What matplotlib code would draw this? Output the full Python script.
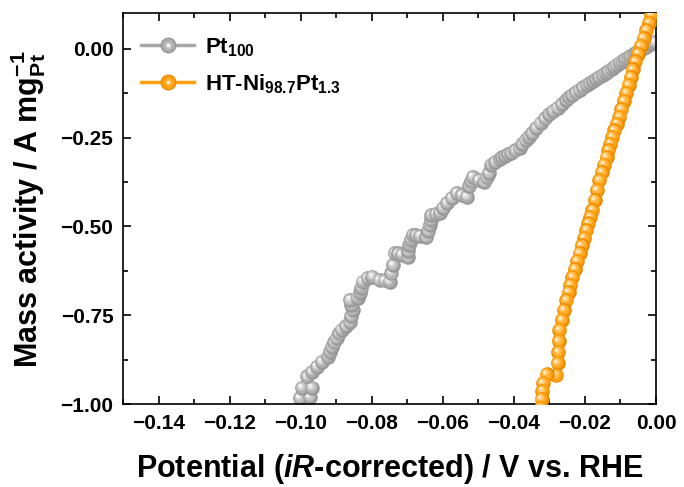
import matplotlib
matplotlib.use('Agg')
import matplotlib.pyplot as plt
from matplotlib.lines import Line2D
from matplotlib.legend_handler import HandlerTuple
from matplotlib.ticker import MultipleLocator
from matplotlib.transforms import offset_copy

plt.rcParams['font.family'] = ['Liberation Sans', 'DejaVu Sans']
plt.rcParams['font.weight'] = 'bold'
plt.rcParams['mathtext.fontset'] = 'custom'
plt.rcParams['mathtext.rm'] = 'Liberation Sans:bold'
plt.rcParams['mathtext.bf'] = 'Liberation Sans:bold'
plt.rcParams['mathtext.it'] = 'Liberation Sans:italic:bold'

# Pt100 (gray)
pt_x = [-0.1003, -0.0975, -0.0997, -0.0969, -0.0983, -0.0969, -0.0955, -0.0941,
        -0.0924, -0.0918, -0.0913, -0.0906, -0.0899, -0.0892, -0.0885, -0.0873,
        -0.0862, -0.0858, -0.0854, -0.0858, -0.0862, -0.0840, -0.0834, -0.0829,
        -0.0826, -0.0812, -0.0798, -0.0778, -0.0764, -0.0750, -0.0745, -0.0741,
        -0.0736, -0.0726, -0.0716, -0.0699, -0.0697, -0.0694, -0.0690, -0.0685,
        -0.0675, -0.0665, -0.0646, -0.0641, -0.0637, -0.0634, -0.0632, -0.0620,
        -0.0609, -0.0599, -0.0589, -0.0575, -0.0561, -0.0547, -0.0533, -0.0525,
        -0.0520, -0.0516, -0.0499, -0.0483, -0.0477, -0.0471, -0.0463, -0.0452,
        -0.0440, -0.0432, -0.0424, -0.0416, -0.0407, -0.0396, -0.0384, -0.0376,
        -0.0367, -0.0358, -0.0348, -0.0337, -0.0325, -0.0313, -0.0300, -0.0289,
        -0.0277, -0.0265, -0.0252, -0.0244, -0.0235, -0.0225, -0.0215, -0.0205,
        -0.0195, -0.0186, -0.0176, -0.0168, -0.0159, -0.0150, -0.0142, -0.0134,
        -0.0125, -0.0118, -0.0111, -0.0102, -0.0094, -0.0087, -0.0080, -0.0073,
        -0.0066, -0.0059, -0.0052, -0.0045, -0.0038, -0.0027, -0.0021, -0.0015,
        -0.0009, -0.0004]
pt_y = [-0.982, -0.979, -0.953, -0.953, -0.922, -0.908, -0.894, -0.880,
        -0.866, -0.852, -0.838, -0.825, -0.813, -0.801, -0.790, -0.779,
        -0.768, -0.751, -0.734, -0.720, -0.706, -0.700, -0.686, -0.672,
        -0.655, -0.644, -0.641, -0.650, -0.652, -0.655, -0.631, -0.608,
        -0.574, -0.576, -0.579, -0.585, -0.568, -0.551, -0.537, -0.523,
        -0.524, -0.526, -0.529, -0.512, -0.495, -0.481, -0.467, -0.464,
        -0.461, -0.447, -0.433, -0.419, -0.405, -0.411, -0.416, -0.386,
        -0.373, -0.360, -0.369, -0.374, -0.361, -0.349, -0.326, -0.318,
        -0.310, -0.306, -0.301, -0.297, -0.293, -0.286, -0.279, -0.268,
        -0.256, -0.247, -0.237, -0.223, -0.208, -0.196, -0.183, -0.175,
        -0.166, -0.155, -0.144, -0.137, -0.130, -0.123, -0.116, -0.109,
        -0.102, -0.096, -0.090, -0.085, -0.079, -0.073, -0.068, -0.063,
        -0.057, -0.051, -0.045, -0.039, -0.034, -0.030, -0.026, -0.021,
        -0.017, -0.013, -0.009, -0.004, 0.000, 0.005, 0.010, 0.014,
        0.017, 0.019]

# HT-Ni98.7Pt1.3 (orange)
ni_x = [-0.0003, -0.0013, -0.0020, -0.0027, -0.0035, -0.0043, -0.0051, -0.0058,
        -0.0066, -0.0071, -0.0077, -0.0083, -0.0090, -0.0097, -0.0103, -0.0110,
        -0.0117, -0.0123, -0.0128, -0.0134, -0.0139, -0.0146, -0.0152, -0.0159,
        -0.0166, -0.0172, -0.0179, -0.0185, -0.0190, -0.0196, -0.0202, -0.0209,
        -0.0215, -0.0222, -0.0228, -0.0235, -0.0241, -0.0246, -0.0252, -0.0259,
        -0.0265, -0.0272, -0.0274, -0.0275, -0.0277, -0.0280, -0.0308, -0.0318,
        -0.0320, -0.0322, -0.0324]
ni_y = [0.117, 0.095, 0.073, 0.052, 0.030, 0.008, -0.014, -0.036,
        -0.058, -0.080, -0.102, -0.124, -0.147, -0.170, -0.192, -0.211,
        -0.230, -0.248, -0.267, -0.286, -0.305, -0.326, -0.347, -0.369,
        -0.397, -0.426, -0.454, -0.473, -0.491, -0.510, -0.532, -0.553,
        -0.575, -0.597, -0.620, -0.642, -0.664, -0.685, -0.707, -0.735,
        -0.763, -0.791, -0.822, -0.853, -0.884, -0.918, -0.915, -0.940,
        -0.962, -0.985, -1.010]

labels = [r'Pt$_{100}$', r'HT-Ni$_{98.7}$Pt$_{1.3}$']

# ball shading layers, dark rim -> bright highlight shifted up-left
shade_gray = ['#989898', '#adadad', '#c4c4c4', '#dedede', '#fafafa']
shade_orange = ['#e88a00', '#ffa10f', '#ffb33a', '#ffcb74', '#fff2dc']
sizes = [10.5, 9.0, 6.7, 4.4, 2.0]
offs = [0.0, -0.35, -0.8, -1.25, -1.6]

fig = plt.figure(figsize=(6.84, 4.87), dpi=100)
ax = fig.add_axes([0.180, 0.170, 0.779, 0.803])


def draw_series(x, y, shades, line_color, z0):
    ax.plot(x, y, '-', color=line_color, lw=2.5, zorder=z0)
    z = z0 + 0.01
    for xi, yi in zip(x, y):
        for s, c, o in zip(sizes, shades, offs):
            tr = offset_copy(ax.transData, fig=fig, x=o, y=-o, units='points')
            ax.plot([xi], [yi], 'o', ms=s, color=c, mec='none', transform=tr, zorder=z)
            z += 0.0001


draw_series(pt_x, pt_y, shade_gray, '#a8a8a8', 2)
draw_series(ni_x, ni_y, shade_orange, '#ffa10f', 3)

ax.set_xlim(-0.15, 0.0)
ax.set_ylim(-1.0, 0.1)
ax.xaxis.set_major_locator(MultipleLocator(0.02))
ax.xaxis.set_minor_locator(MultipleLocator(0.01))
ax.yaxis.set_major_locator(MultipleLocator(0.25))
ax.yaxis.set_minor_locator(MultipleLocator(0.125))
ax.tick_params(which='both', direction='in', top=True, right=True, width=1.2,
               labelsize=15, pad=7)
ax.tick_params(which='major', length=6)
ax.tick_params(which='minor', length=3.5)
for sp in ax.spines.values():
    sp.set_linewidth(1.2)

ax.set_xlabel(r'Potential ($\mathit{iR}$-corrected) / V vs. RHE', fontsize=22,
              fontweight='bold', labelpad=14)
ax.set_ylabel(r'Mass activity / A mg$_{\mathrm{Pt}}^{-1}$', fontsize=22,
              fontweight='bold', labelpad=9)

handles = []
for shades, lc in [(shade_gray, '#a8a8a8'), (shade_orange, '#ffa10f')]:
    base = Line2D([], [], color=lc, lw=2.5, marker='o', ms=10.5, mfc=shades[1], mec=shades[0])
    mid = Line2D([], [], ls='none', marker='o', ms=5.5, mfc=shades[2], mec='none')
    hi = Line2D([], [], ls='none', marker='o', ms=2.5, mfc=shades[4], mec='none')
    handles.append((base, mid, hi))
ax.legend(handles, labels, handler_map={tuple: HandlerTuple(ndivide=1)},
          loc='upper left', bbox_to_anchor=(0.0, 0.987), frameon=False,
          fontsize=16, handlelength=2.4, handletextpad=0.5, labelspacing=0.6,
          borderaxespad=0.4)

fig.savefig('out.png', dpi=100)
